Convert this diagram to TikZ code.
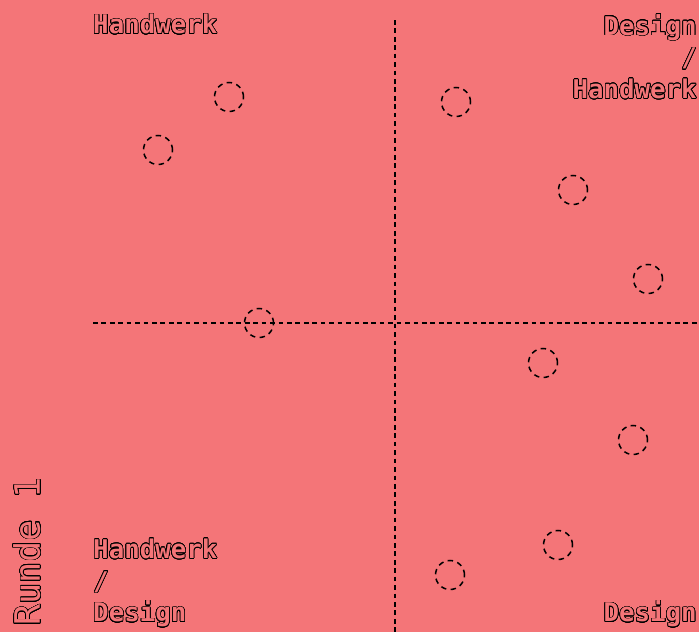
\documentclass[tikz,border=0pt]{standalone}
\usepackage{fontspec}
\usepackage{xcolor}
\usepackage{contour}
\setmonofont{DejaVu Sans Mono}
\usetikzlibrary{positioning}
\definecolor{salmonbg}{RGB}{244,117,120}
\contourlength{0.55pt}
\contournumber{24}
\newcommand{\hollow}[1]{\contour{black}{\textcolor{salmonbg}{#1}}}

\begin{document}
\begin{tikzpicture}[x=0.03cm,y=-0.03cm,
  axisline/.style={line width=1.4pt,dash pattern=on 4pt off 3.2pt},
  spot/.style={draw,circle,line width=1.3pt,dash pattern=on 4.6pt off 3.8pt,minimum size=0.87cm,inner sep=0pt},
  cornerlabel/.style={font=\ttfamily\bfseries\fontsize{22}{27}\selectfont,inner sep=0pt,align=#1},
  cornerlabel/.default=left]
\fill[salmonbg] (0,0) rectangle (699,632);
\useasboundingbox (0,0) rectangle (699,632);

\coordinate (vtop) at (395,20);
\coordinate (vbot) at (395,632);
\coordinate (hleft) at (93,323);
\coordinate (hright) at (699,323);
\draw[axisline] (vtop) -- (vbot);
\draw[axisline] (hleft) -- (hright);

\node[spot] (s1) at (229,97) {};
\node[spot] (s2) at (158,150) {};
\node[spot] (s3) at (259,323) {};
\node[spot] (s4) at (456,102) {};
\node[spot] (s5) at (573,190) {};
\node[spot] (s6) at (648,279) {};
\node[spot] (s7) at (543,363) {};
\node[spot] (s8) at (633,440) {};
\node[spot] (s9) at (558,545) {};
\node[spot] (s10) at (450,575) {};

\node[cornerlabel,anchor=north west] (tl) at (93,14) {\hollow{Handwerk}};
\node[cornerlabel=right,anchor=north east] (tr) at (697,14) {\hollow{Design}\\\hollow{/}\\\hollow{Handwerk}};
\node[cornerlabel,anchor=south west] (bl) at (93,628) {\hollow{Handwerk}\\\hollow{/}\\\hollow{Design}};
\node[cornerlabel,anchor=south east] (br) at (697,628) {\hollow{Design}};
\node[font=\ttfamily\fontsize{30}{30}\selectfont,rotate=90,anchor=north west,inner sep=0pt] (round) at (13,626) {\hollow{Runde 1}};
\end{tikzpicture}
\end{document}
